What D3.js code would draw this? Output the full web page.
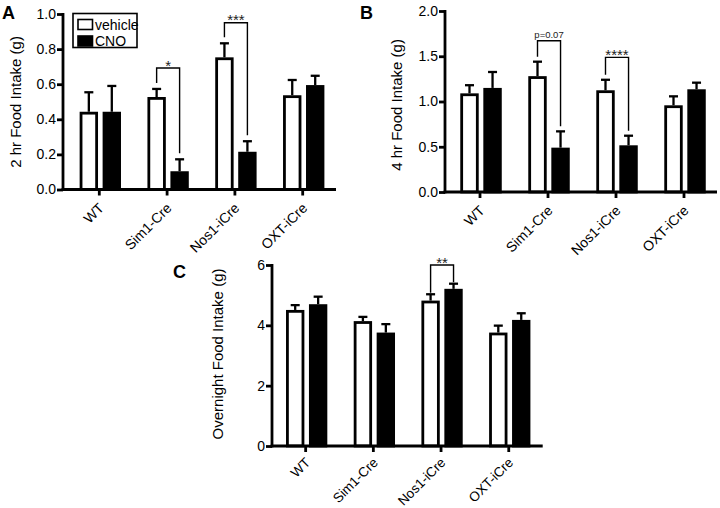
<!DOCTYPE html>
<html>
<head>
<meta charset="utf-8">
<script src="https://cdn.jsdelivr.net/npm/d3@7"></script>
<style>
  html, body { margin: 0; padding: 0; background: #fff; }
  svg { display: block; font-family: "Liberation Sans", Arial, Helvetica, sans-serif; }
</style>
</head>
<body>
<svg id="chart" width="720" height="508"></svg>
<script>
// ---------------- DATA ----------------
const categories = ["WT", "Sim1-Cre", "Nos1-iCre", "OXT-iCre"];
const seriesNames = ["vehicle", "CNO"];

// Panel A: 2 hr food intake (g)
const intake2hVehicle    = [0.443, 0.527, 0.753, 0.537];
const intake2hVehicleSem = [0.111, 0.046, 0.080, 0.087];
const intake2hCNO        = [0.443, 0.104, 0.215, 0.595];
const intake2hCNOSem     = [0.147, 0.068, 0.060, 0.053];
const ticks2h = [0, 0.2, 0.4, 0.6, 0.8, 1.0];
const brackets2h = [
  { category: "Sim1-Cre", top: 0.692, label: "*" },
  { category: "Nos1-iCre", top: 0.950, label: "***" }
];

// Panel B: 4 hr food intake (g)
const intake4hVehicle    = [1.09, 1.28, 1.124, 0.958];
const intake4hVehicleSem = [0.09, 0.16, 0.116, 0.099];
const intake4hCNO        = [1.15, 0.49, 0.516, 1.135];
const intake4hCNOSem     = [0.176, 0.18, 0.106, 0.073];
const ticks4h = [0, 0.5, 1.0, 1.5, 2.0];
const brackets4h = [
  { category: "Sim1-Cre", top: 1.672, label: "p=0.07" },
  { category: "Nos1-iCre", top: 1.488, label: "****" }
];

// Panel C: overnight food intake (g)
const overnightVehicle    = [4.51, 4.14, 4.82, 3.76];
const overnightVehicleSem = [0.16, 0.14, 0.21, 0.23];
const overnightCNO        = [4.70, 3.76, 5.21, 4.18];
const overnightCNOSem     = [0.25, 0.28, 0.17, 0.22];
const ticksOvernight = [0, 2, 4, 6];
const bracketsOvernight = [
  { category: "Nos1-iCre", top: 6.0, label: "**" }
];

// ---------------- LAYOUT ----------------
const svg = d3.select("#chart");

const panels = [
  { letter: "A", letterX: 2, letterY: 19,
    yLabel: "2 hr Food Intake (g)", yLabelX: 15, yLabelY: 102,
    axisX: 63, xEnd: 336, bandStart: 65.4, bandEnd: 336.6,
    yBottom: 189.5, yTop: 14, yMax: 1.0, fmt: d3.format(".1f"), labelOffset: 16, labelSize: 14,
    ticks: ticks2h, vehicle: intake2hVehicle, vehicleSem: intake2hVehicleSem,
    cno: intake2hCNO, cnoSem: intake2hCNOSem, brackets: brackets2h, gap: 6, legend: true },
  { letter: "B", letterX: 360, letterY: 19,
    yLabel: "4 hr Food Intake (g)", yLabelX: 396, yLabelY: 105,
    axisX: 445, xEnd: 717, bandStart: 446, bandEnd: 718,
    yBottom: 192, yTop: 11, yMax: 2.0, fmt: d3.format(".1f"), labelOffset: 16, labelSize: 14,
    ticks: ticks4h, vehicle: intake4hVehicle, vehicleSem: intake4hVehicleSem,
    cno: intake4hCNO, cnoSem: intake4hCNOSem, brackets: brackets4h, gap: 5, legend: false },
  { letter: "C", letterX: 173, letterY: 278,
    yLabel: "Overnight Food Intake (g)", yLabelX: 217.5, yLabelY: 354,
    axisX: 272, xEnd: 542.7, bandStart: 271.8, bandEnd: 542.6,
    yBottom: 446, yTop: 265, yMax: 6, fmt: d3.format("d"), labelOffset: 14, labelSize: 13.5,
    ticks: ticksOvernight, vehicle: overnightVehicle, vehicleSem: overnightVehicleSem,
    cno: overnightCNO, cnoSem: overnightCNOSem, brackets: bracketsOvernight, gap: 1.5, legend: false }
];

const AXIS_W = 2.8;
const BAR_STROKE = 2.8;

function drawPanel(p) {
  const g = svg.append("g");
  const x = d3.scaleBand().domain(categories).range([p.bandStart, p.bandEnd]).paddingInner(0).paddingOuter(0);
  const step = x.bandwidth();
  const xs = d3.scaleBand().domain(seriesNames)
    .range([step * 0.21, step * 0.82]).paddingInner(0.2).paddingOuter(0);
  const y = d3.scaleLinear().domain([0, p.yMax]).range([p.yBottom, p.yTop]);

  // panel letter
  g.append("text").attr("x", p.letterX).attr("y", p.letterY)
    .attr("font-size", 18).attr("font-weight", "bold").text(p.letter);

  // y label
  g.append("text")
    .attr("transform", `translate(${p.yLabelX},${p.yLabelY}) rotate(-90)`)
    .attr("text-anchor", "middle").attr("dominant-baseline", "central")
    .attr("font-size", 15).text(p.yLabel);

  // bars
  const rows = categories.map((c, i) => ({
    cat: c,
    vals: [
      { s: "vehicle", v: p.vehicle[i], e: p.vehicleSem[i] },
      { s: "CNO", v: p.cno[i], e: p.cnoSem[i] }
    ]
  }));
  const grp = g.selectAll(".grp").data(rows).join("g")
    .attr("transform", d => `translate(${x(d.cat)},0)`);

  // error bars (one-sided, upward)
  grp.selectAll(".err").data(d => d.vals).join("g").each(function (d) {
    const cx = xs(d.s) + xs.bandwidth() / 2;
    const el = d3.select(this);
    el.append("line").attr("x1", cx).attr("x2", cx)
      .attr("y1", y(d.v)).attr("y2", y(d.v + d.e))
      .attr("stroke", "#000").attr("stroke-width", 2.3);
    el.append("line").attr("x1", cx - 4.5).attr("x2", cx + 4.5)
      .attr("y1", y(d.v + d.e)).attr("y2", y(d.v + d.e))
      .attr("stroke", "#000").attr("stroke-width", 2.3);
  });

  grp.selectAll("rect").data(d => d.vals).join("rect")
    .attr("x", d => xs(d.s) + BAR_STROKE / 2)
    .attr("width", xs.bandwidth() - BAR_STROKE)
    .attr("y", d => y(d.v) + BAR_STROKE / 2)
    .attr("height", d => y(0) - y(d.v) - BAR_STROKE / 2)
    .attr("fill", d => d.s === "vehicle" ? "#fff" : "#000")
    .attr("stroke", "#000").attr("stroke-width", BAR_STROKE);

  // y axis
  const yAxis = d3.axisLeft(y).tickValues(p.ticks).tickFormat(p.fmt)
    .tickSizeInner(6).tickSizeOuter(0).tickPadding(1);
  const ya = g.append("g").attr("transform", `translate(${p.axisX},0)`).call(yAxis);
  ya.select(".domain").remove();
  ya.selectAll(".tick line").attr("stroke-width", AXIS_W);
  ya.selectAll(".tick text").attr("font-size", 14).attr("fill", "#000")
    .attr("font-family", "Liberation Sans, Arial, sans-serif");
  g.append("line").attr("x1", p.axisX).attr("x2", p.axisX)
    .attr("y1", y(p.yMax) - 1).attr("y2", y(0) + AXIS_W / 2)
    .attr("stroke", "#000").attr("stroke-width", AXIS_W);

  // x axis
  const xAxis = d3.axisBottom(x).tickSizeInner(6).tickSizeOuter(0).tickFormat("");
  const xa = g.append("g").attr("transform", `translate(0,${p.yBottom})`).call(xAxis);
  xa.select(".domain").remove();
  xa.selectAll(".tick line").attr("stroke-width", AXIS_W);
  g.append("line").attr("x1", p.axisX - AXIS_W / 2).attr("x2", p.xEnd)
    .attr("y1", p.yBottom).attr("y2", p.yBottom)
    .attr("stroke", "#000").attr("stroke-width", AXIS_W);

  // rotated category labels
  g.selectAll(".xlab").data(categories).join("text")
    .attr("transform", d => `translate(${x(d) + step / 2 + 2},${p.yBottom + p.labelOffset}) rotate(-45)`)
    .attr("text-anchor", "end").attr("dy", "0.35em")
    .attr("font-size", p.labelSize).text(d => d);

  // significance brackets
  p.brackets.forEach(b => {
    const i = categories.indexOf(b.category);
    const xl = x(b.category) + xs("vehicle") + xs.bandwidth() / 2;
    const xr = x(b.category) + xs("CNO") + xs.bandwidth() / 2;
    const yt = y(b.top);
    const yl = y(p.vehicle[i] + p.vehicleSem[i]) - p.gap;
    const yr = y(p.cno[i] + p.cnoSem[i]) - p.gap;
    g.append("path")
      .attr("d", `M${xl},${yl}V${yt}H${xr}V${yr}`)
      .attr("fill", "none").attr("stroke", "#000").attr("stroke-width", 1.4);
    const isP = b.label.startsWith("p");
    g.append("text").attr("x", (xl + xr) / 2).attr("y", isP ? yt - 3 : yt + 2.5)
      .attr("text-anchor", "middle")
      .attr("font-size", isP ? 9.5 : 15)
      .attr("fill", "#222").text(b.label);
  });

  // legend
  if (p.legend) {
    const lg = g.append("g");
    lg.append("rect").attr("x", 73).attr("y", 13.5).attr("width", 64).attr("height", 34)
      .attr("fill", "#fff").attr("stroke", "#000").attr("stroke-width", 1.6);
    seriesNames.forEach((s, k) => {
      lg.append("rect").attr("x", 78).attr("y", 19.5 + k * 16.5).attr("width", 14.5).attr("height", 10)
        .attr("fill", s === "vehicle" ? "#fff" : "#000").attr("stroke", "#000").attr("stroke-width", 1.6);
      lg.append("text").attr("x", 95).attr("y", 29.5 + k * 16.5)
        .attr("font-size", 14).text(s);
    });
  }
}

panels.forEach(drawPanel);
</script>
</body>
</html>
